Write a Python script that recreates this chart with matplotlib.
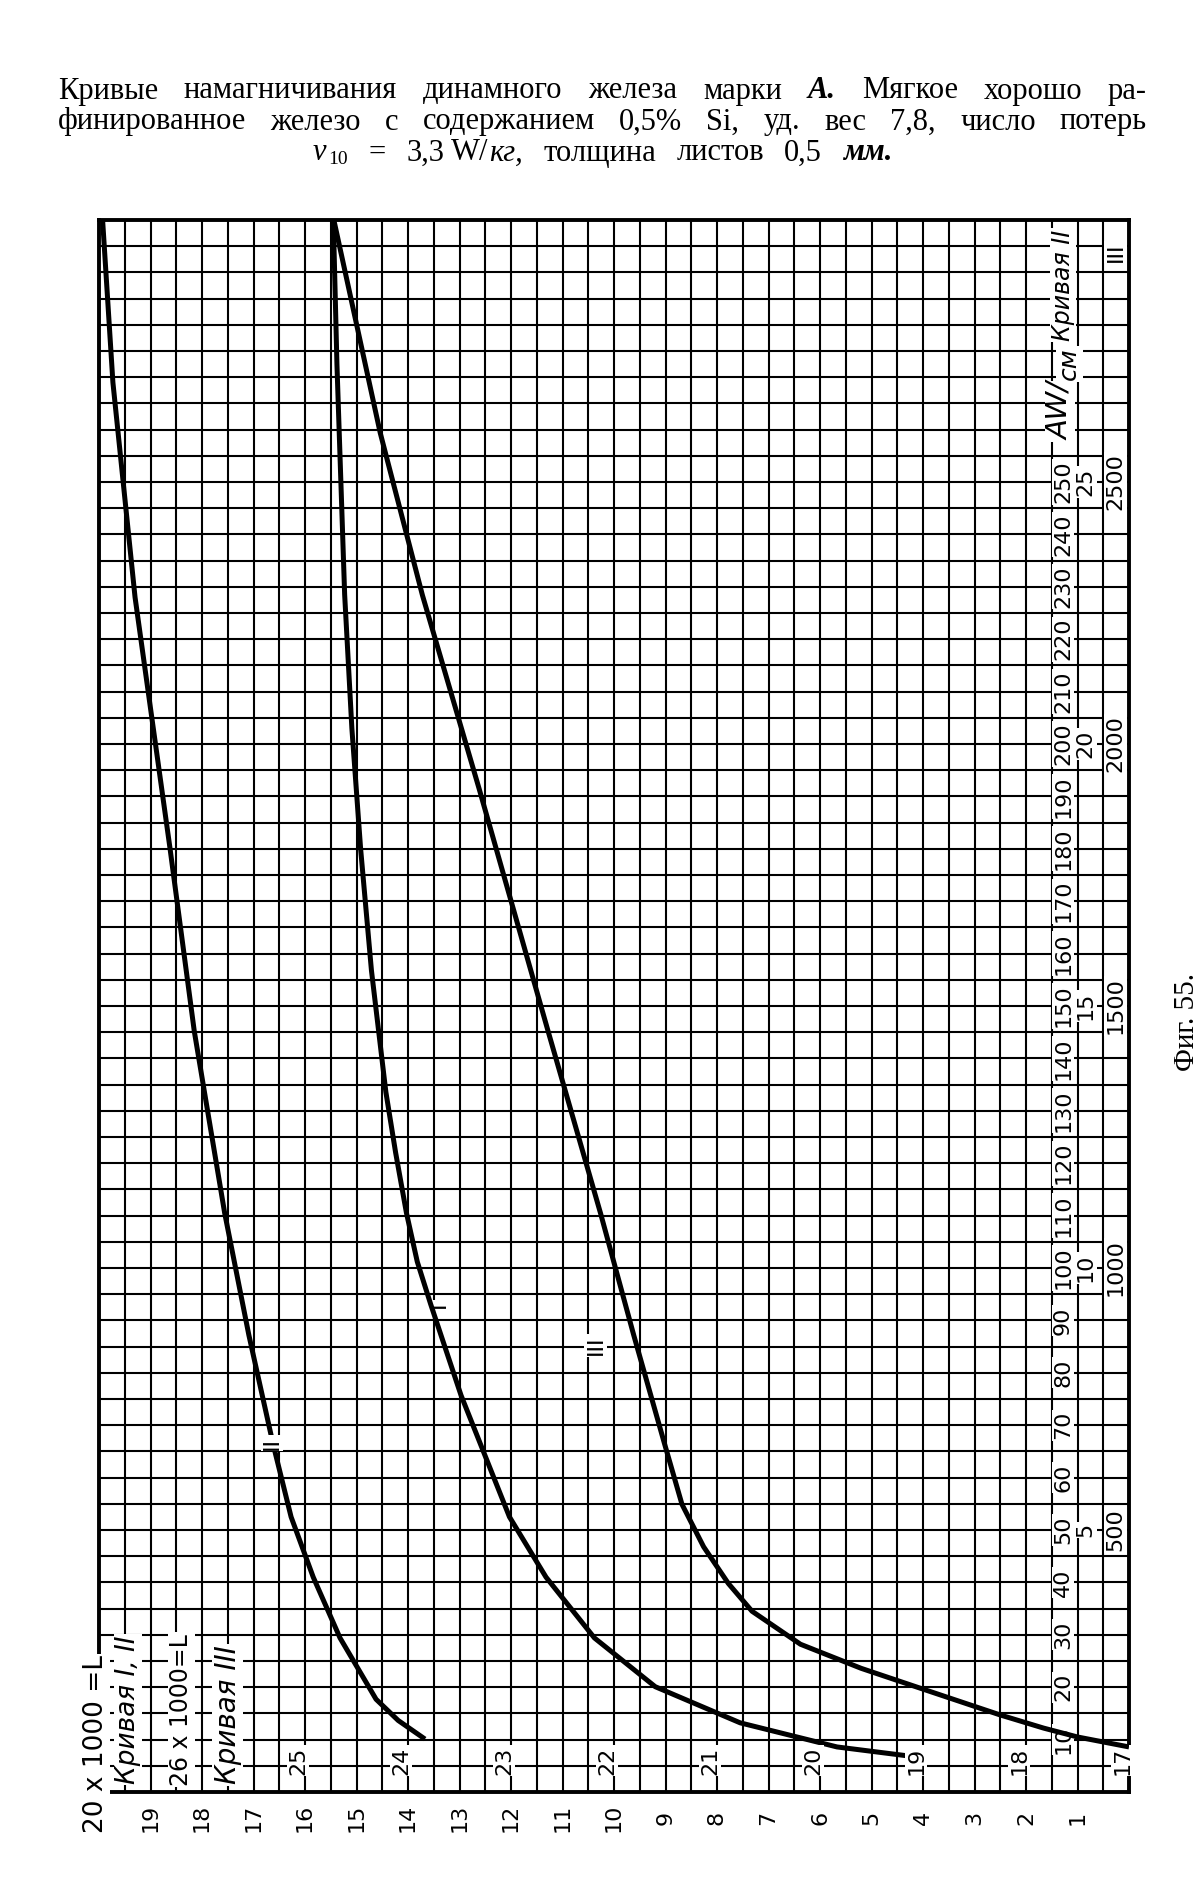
import matplotlib.pyplot as plt
import matplotlib.transforms as mtrans
import numpy as np

# curve II: B (kG) vs H (AW/cm), H scale 0..300
b_II = [13.67, 14.19, 14.62, 15.32, 15.84, 16.27, 16.62, 17.09, 17.56, 18.15, 18.62, 19.3, 19.73, 19.93]
h_II = [10.1, 13.65, 17.7, 29.4, 41.0, 52.5, 66.4, 87.2, 110.5, 145.2, 180, 228, 269, 300]

# curve I: H scale 0..30
b_I = [4.14, 5.67, 7.55, 9.2, 10.38, 11.32, 12.03, 12.5, 12.97, 13.56, 13.82, 14.03, 14.24,
       14.43, 14.71, 14.92, 15.09, 15.23, 15.38, 15.45]
h_I = [0.67, 0.86, 1.32, 2.01, 2.94, 4.1, 5.25, 6.41, 7.57, 9.31, 10.12, 11.05, 12.2,
       13.36, 15.68, 18.0, 20.3, 22.85, 27.25, 30]

# curve III: B 17..26 kG, H scale 0..3000
b_III = [17.0, 17.5, 17.83, 18.25, 19.01, 19.6, 20.19, 20.66, 20.89, 21.13, 21.34, 21.51,
         21.81, 22.13, 22.64, 23.31, 23.86, 24.27, 24.72]
h_III = [86, 105, 122, 147, 197, 236, 282, 345, 398, 468, 549, 665,
         873, 1104, 1452, 1915, 2284, 2594, 3000]

b_labels = list(range(19, 0, -1))
b3_labels = list(range(25, 16, -1))
h_labels = list(range(10, 260, 10))
h2_labels = [5, 10, 15, 20, 25]
h3_labels = [500, 1000, 1500, 2000, 2500]

W, H = 1200, 1902
fig = plt.figure(figsize=(W / 100, H / 100), dpi=100)

x0, x1, ytop, ybot = 99, 1129, 220, 1792
rect = [x0 / W, 1 - ybot / H, (x1 - x0) / W, (ybot - ytop) / H]

ax = fig.add_axes(rect)
ax.set_xlim(20, 0)
ax.set_ylim(0, 300)
ax.set_xticks(np.arange(0, 20.01, 0.5))
ax.set_yticks(np.arange(0, 301, 5))
ax.tick_params(length=0, labelbottom=False, labelleft=False)
ax.grid(color='black', lw=1.5)
for s in ax.spines.values():
    s.set_linewidth(2.8)

ax1 = fig.add_axes(rect, frameon=False)
ax1.set_xlim(20, 0)
ax1.set_ylim(0, 30)
ax1.axis('off')

ax3 = fig.add_axes(rect, frameon=False)
ax3.set_xlim(27, 17)
ax3.set_ylim(0, 3000)
ax3.axis('off')

lw = 3.6
ax.plot(b_II, h_II, color='black', lw=lw, solid_capstyle='butt', solid_joinstyle='round', zorder=5)
ax1.plot(b_I, h_I, color='black', lw=lw, solid_capstyle='butt', solid_joinstyle='round', zorder=5)
ax3.plot(b_III, h_III, color='black', lw=lw, solid_capstyle='butt', solid_joinstyle='round', zorder=5)

num = dict(family='DejaVu Sans', fontsize=16, rotation=90, color='black')
white = dict(facecolor='white', edgecolor='none', pad=1)
rot = dict(rotation=90, rotation_mode='anchor', ha='left', va='center')

# B labels under the frame
tb = ax.get_xaxis_transform()
for b in b_labels:
    ax.text(b, -0.0165, str(b), transform=tb, ha='center', va='center', **num)

# curve III B labels inside, near the bottom
tb3 = ax3.get_xaxis_transform()
for b in b3_labels:
    ax3.text(b - 0.03, 0.02, str(b), transform=tb3, ha='right', va='center',
             bbox=white, **num)

# H labels in the right columns
t1 = mtrans.blended_transform_factory(ax.transAxes, ax.transData)
t2 = mtrans.blended_transform_factory(ax.transAxes, ax1.transData)
t3 = mtrans.blended_transform_factory(ax.transAxes, ax3.transData)
for h in h_labels:
    ax.text(0.936, h, str(h), transform=t1, ha='center', va='center', bbox=white, **num)
for h in h2_labels:
    ax.text(0.958, h, str(h), transform=t2, ha='center', va='center', bbox=white, **num)
for h in h3_labels:
    ax.text(0.987, h, str(h), transform=t3, ha='center', va='center', bbox=white, **num)

ax.text(0.933, 0.86, 'AW/', transform=ax.transAxes, fontsize=21, style='italic',
        bbox=white, **rot)
ax.text(0.942, 0.898, 'см', transform=ax.transAxes, fontsize=18, style='italic',
        bbox=white, **rot)
ax.text(0.936, 0.923, 'Кривая II', transform=ax.transAxes, fontsize=17, style='italic',
        bbox=white, **rot)
ax.text(0.987, 0.986, 'III', transform=ax.transAxes, fontsize=16, bbox=white,
        rotation=90, rotation_mode='anchor', ha='right', va='center')

# scale captions bottom-left
ax.text(-0.003, -0.026, '20 x 1000 =L', transform=ax.transAxes, fontsize=19, bbox=white, **rot)
ax.text(0.028, 0.005, 'Кривая I, II', transform=ax.transAxes, fontsize=19, style='italic',
        bbox=white, **rot)
ax.text(0.08, 0.004, '26 x 1000=L', transform=ax.transAxes, fontsize=17, bbox=white, **rot)
ax.text(0.125, 0.005, 'Кривая III', transform=ax.transAxes, fontsize=20, style='italic',
        bbox=white, **rot)

# curve names
ax.text(0.168, 0.222, 'II', transform=ax.transAxes, rotation=90, ha='center', va='center',
        fontsize=16, bbox=white, zorder=6)
ax.text(0.33, 0.31, 'I', transform=ax.transAxes, rotation=90, ha='center', va='center',
        fontsize=16, bbox=white, zorder=6)
ax.text(0.482, 0.284, 'III', transform=ax.transAxes, rotation=90, ha='center', va='center',
        fontsize=16, bbox=white, zorder=6)

# title
serif = 'Liberation Serif'
tsize = 22
r = fig.canvas.get_renderer()


def place(parts, ypx, left, right, weights=None):
    # lay words from left to right, stretching the gaps so the line spans left..right
    objs = []
    for w, kw in parts:
        kw = dict(kw)
        dy = kw.pop('dy', 0)
        size = kw.pop('size', tsize)
        objs.append(fig.text(0, 1 - (ypx + dy) / H, w, family=serif, fontsize=size,
                             va='center', **kw))
    widths = [o.get_window_extent(r).width for o in objs]
    if weights is None:
        weights = [1] * (len(objs) - 1)
    unit = (right - left - sum(widths)) / sum(weights)
    x = left
    for i, (o, wd) in enumerate(zip(objs, widths)):
        o.set_x(x / W)
        if i < len(weights):
            x += wd + unit * weights[i]


line1 = [(w, {}) for w in 'Кривые намагничивания динамного железа марки'.split()]
line1 += [('A.', dict(style='italic', weight='bold'))]
line1 += [(w, {}) for w in 'Мягкое хорошо ра-'.split()]
line2 = [(w, {}) for w in 'финированное железо с содержанием 0,5% Si, уд. вес 7,8, число потерь'.split()]
place(line1, 91, 58, 1147)
place(line2, 122, 58, 1147)

line3 = [('v', dict(style='italic')), ('10', dict(size=14, dy=7)), ('=', {}), ('3,3', {}),
         ('W/', {}), ('кг,', dict(style='italic')), ('толщина', {}), ('листов', {}),
         ('0,5', {}), ('мм.', dict(style='italic', weight='bold'))]
place(line3, 153, 313, 892, weights=[0.1, 1, 1, 0.3, 0.05, 1, 1, 1, 1])

fig.text(1187 / W, 1 - 1022 / H, 'Фиг. 55.', family=serif, fontsize=21, rotation=90,
         ha='center', va='center')

fig.savefig('out.png', dpi=100, facecolor='white')
